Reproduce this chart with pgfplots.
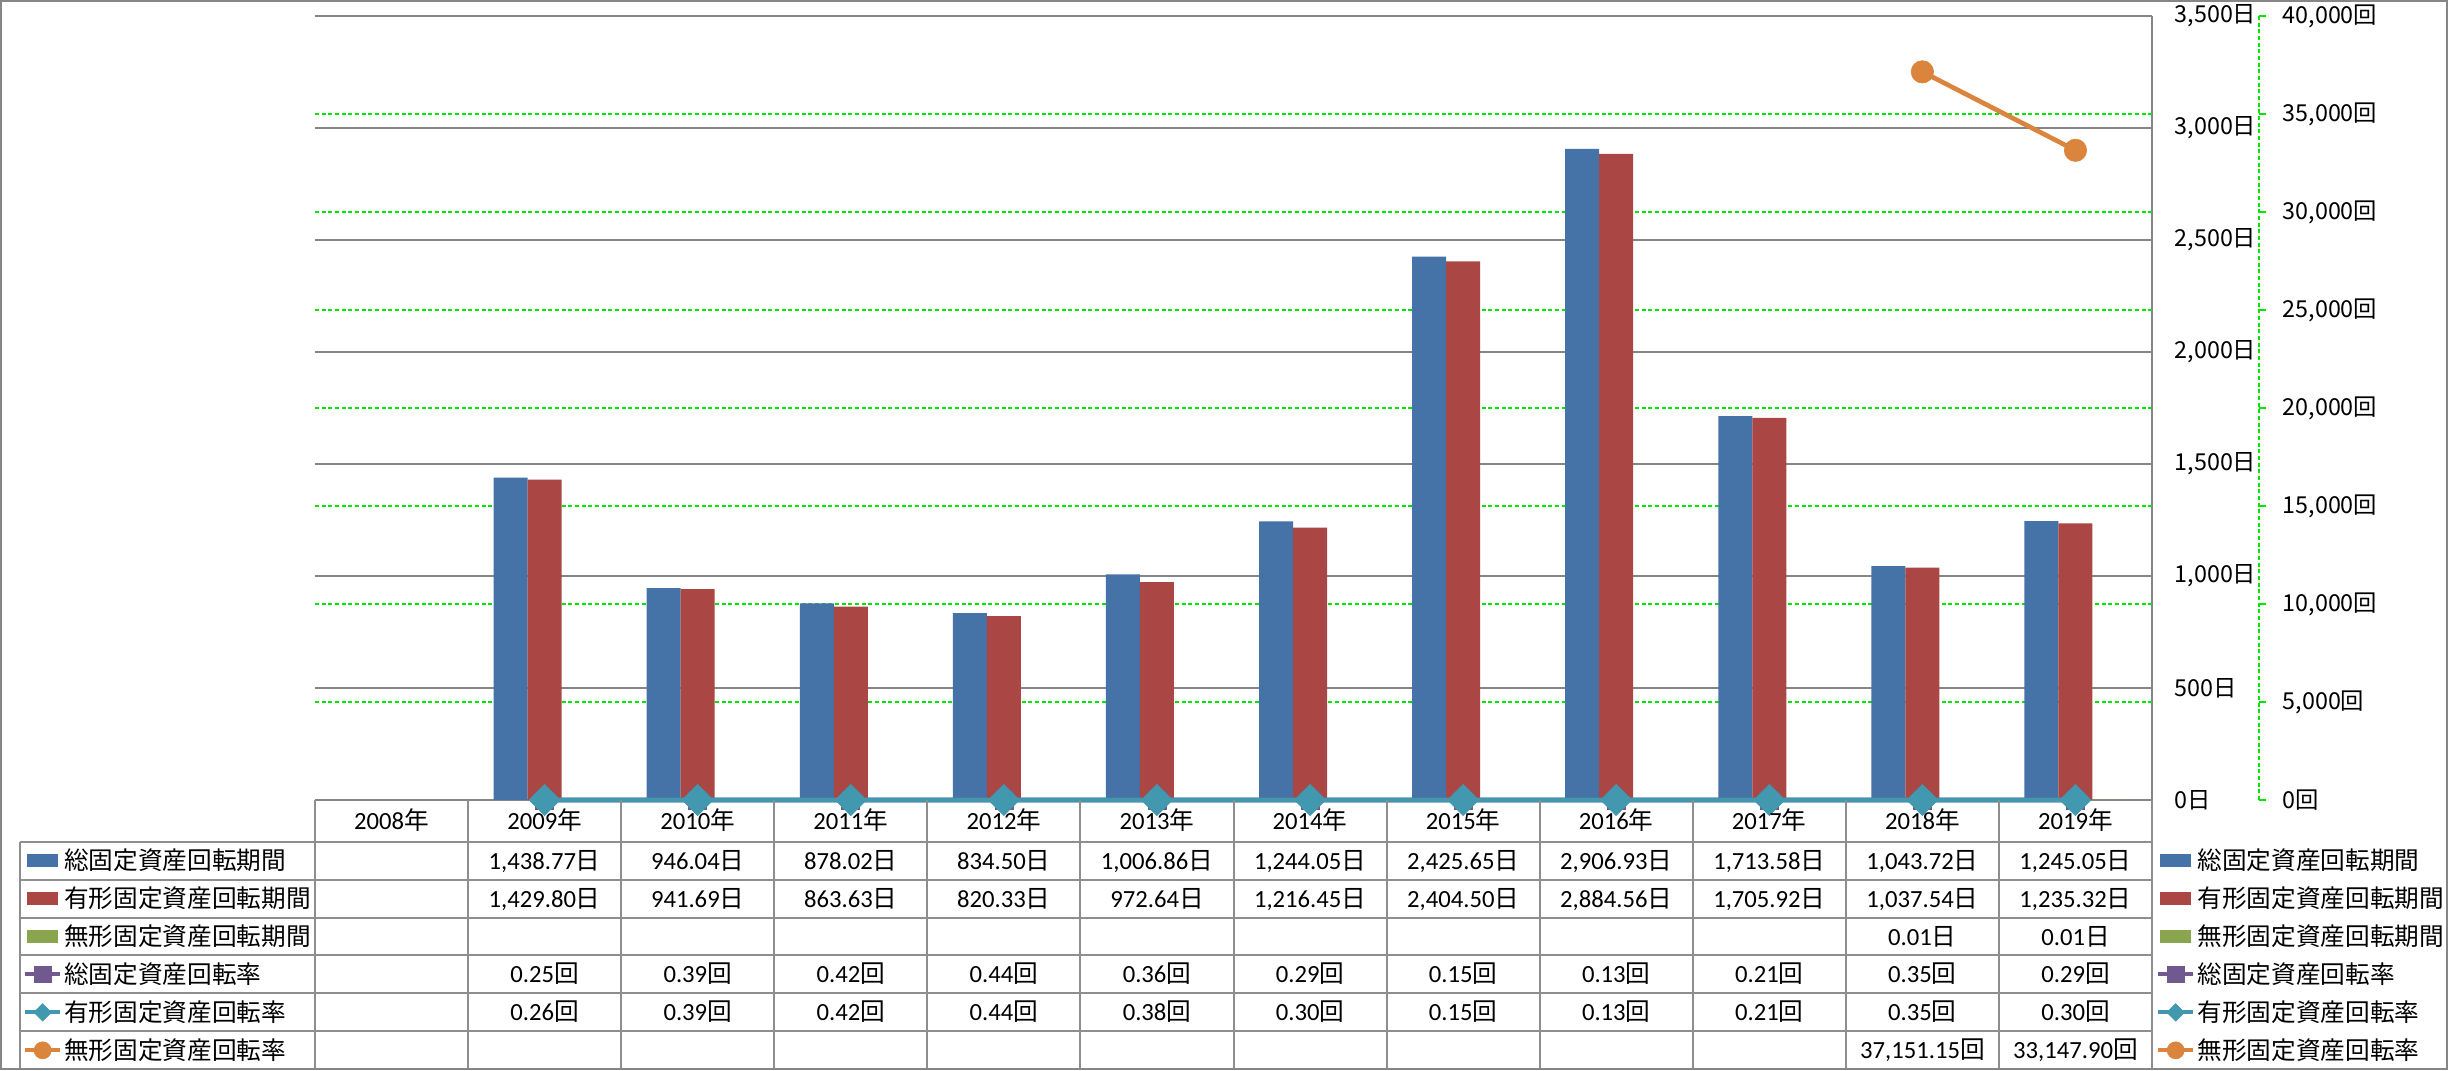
\documentclass[border=0pt]{standalone}
\usepackage{fontspec}
\setmainfont{Carlito}
\newfontfamily\cjk{Noto Sans CJK JP}
\usepackage{pgfplots}
\pgfplotsset{compat=1.18}
\definecolor{cBlue}{HTML}{4572A7}
\definecolor{cRed}{HTML}{AA4643}
\definecolor{cGreen}{HTML}{89A54E}
\definecolor{cPurple}{HTML}{71588F}
\definecolor{cTeal}{HTML}{4198AF}
\definecolor{cOrange}{HTML}{DB843D}
\definecolor{cGrid}{HTML}{868686}
\definecolor{cTab}{HTML}{8E8E8E}
\definecolor{cLime}{HTML}{00E600}
\newcommand\ri{{\cjk 日}}
\newcommand\ka{{\cjk 回}}
\newcommand\nen{{\cjk 年}}
\newcommand\tf{\fontsize{7.4}{8.5}\selectfont}
\newcommand\cell[3]{\node[anchor=base,inner sep=0pt,font=\tf] at ({153.083*(#1+0.5)},{-69.2-37.93*#2}) {#3};}
\newcommand\hd[1]{\node[anchor=base,inner sep=0pt,font=\tf] at ({153.083*(#1-2007.5)},-29.35) {#1\nen};}
\pgfplotsset{
  barleg/.style={legend image code/.code={\fill[##1] (0.5pt,-1.85pt) rectangle (10pt,1.85pt);}},
  lineleg/.style={legend image code/.code={\draw[mark repeat=2,mark phase=2,##1,line width=1.2pt,mark size=#1] plot coordinates {(0pt,0pt) (5.3pt,0pt) (10.6pt,0pt)};}},
  tblleg/.style={legend cell align=left,
    legend style={anchor=north west, draw=none, fill=none, inner sep=0pt, outer sep=0pt,
      row sep=0pt, column sep=0.6pt, font=\fontsize{7.4}{8.5}\cjk,
      nodes={inner sep=0pt, text height=8.49pt, text depth=2.89pt}}},
  sPurple/.style={lineleg=2.5pt, color=cPurple, line width=1.4pt, mark=square*, mark size=2.7pt, mark options={line width=0.2pt}},
  sTeal/.style={lineleg=1.85pt, color=cTeal, line width=1.4pt, mark=square*, mark size=3.3pt, mark options={rotate=45, line width=0.2pt}},
  sOrange/.style={lineleg=2.55pt, color=cOrange, line width=1.4pt, mark=*, mark size=3.35pt, mark options={line width=0.2pt}},
}
\begin{document}
\begin{tikzpicture}
% ---------- primary axis: periods (days), bars ----------
\begin{axis}[
  at={(0pt,0pt)}, anchor=south west, scale only axis,
  width=551.1pt, height=235.2pt,
  xmin=-0.5, xmax=11.5, ymin=0, ymax=3500,
  axis x line*=bottom, axis y line*=right,
  x axis line style={draw=cGrid, line width=0.6pt},
  y axis line style={draw=cGrid, line width=0.6pt},
  xtick=\empty,
  ytick={0,500,...,3500},
  y tick style={draw=none},
  ymajorgrids, major grid style={draw=cGrid, line width=0.6pt},
  extra y ticks={437.5,875,1312.5,1750,2187.5,2625,3062.5},
  extra y tick labels={},
  extra y tick style={grid=major, major grid style={draw=cLime, dash pattern=on 1.2pt off 0.8pt, line width=0.6pt}, tick style={draw=none}},
  scaled y ticks=false,
  yticklabel style={font=\fontsize{7}{8}\cjk, anchor=west, inner sep=0pt, xshift=6.6pt},
  yticklabel={\pgfmathprintnumber[fixed,precision=0,1000 sep={,},assume math mode=true]{\tick}日},
  tblleg,
  legend style={at={(axis description cs:-0.15896,-0.05319)}},
  clip=false,
]
\addplot[ybar, bar width=10.2pt, bar shift=-10.2pt, fill=cBlue, draw=none, barleg] coordinates {
 (1,1438.77) (2,946.04) (3,878.02) (4,834.50) (5,1006.86) (6,1244.05)
 (7,2425.65) (8,2906.93) (9,1713.58) (10,1043.72) (11,1245.05)};
\addplot[ybar, bar width=10.2pt, bar shift=0pt, fill=cRed, draw=none, barleg] coordinates {
 (1,1429.80) (2,941.69) (3,863.63) (4,820.33) (5,972.64) (6,1216.45)
 (7,2404.50) (8,2884.56) (9,1705.92) (10,1037.54) (11,1235.32)};
\addplot[ybar, bar width=10.2pt, bar shift=10.2pt, fill=cGreen, draw=none, barleg] coordinates {
 (10,0.01) (11,0.01)};
\addlegendimage{sPurple}
\addlegendimage{sTeal}
\addlegendimage{sOrange}
\legend{総固定資産回転期間,有形固定資産回転期間,無形固定資産回転期間,総固定資産回転率,有形固定資産回転率,無形固定資産回転率}
\end{axis}
% ---------- secondary axis: turnover (times), lines ----------
\begin{axis}[
  at={(0pt,0pt)}, anchor=south west, scale only axis,
  width=583.2pt, height=235.2pt,
  xmin=-0.5, xmax=12.199, ymin=0, ymax=40000,
  axis x line=none, axis y line*=right,
  y axis line style={draw=cLime, dash pattern=on 1.2pt off 0.8pt, line width=0.6pt},
  ytick={0,5000,...,40000},
  tick align=outside, major tick length=2.1pt,
  y tick style={draw=cLime, line width=0.6pt, solid},
  scaled y ticks=false,
  yticklabel style={font=\fontsize{7}{8}\cjk, anchor=west, inner sep=0pt, xshift=4.8pt},
  yticklabel={\pgfmathprintnumber[fixed,precision=0,1000 sep={,},assume math mode=true]{\tick}回},
  tblleg,
  legend style={at={(axis description cs:0.94702,-0.05319)}},
  clip=false,
]
\addlegendimage{barleg, fill=cBlue, draw=none}
\addlegendimage{barleg, fill=cRed, draw=none}
\addlegendimage{barleg, fill=cGreen, draw=none}
\addplot[sPurple] coordinates {
 (1,0.25) (2,0.39) (3,0.42) (4,0.44) (5,0.36) (6,0.29) (7,0.15) (8,0.13) (9,0.21) (10,0.35) (11,0.29)};
\addplot[sTeal] coordinates {
 (1,0.26) (2,0.39) (3,0.42) (4,0.44) (5,0.38) (6,0.30) (7,0.15) (8,0.13) (9,0.21) (10,0.35) (11,0.30)};
\addplot[sOrange] coordinates {(10,37151.15) (11,33147.90)};
\legend{総固定資産回転期間,有形固定資産回転期間,無形固定資産回転期間,総固定資産回転率,有形固定資産回転率,無形固定資産回転率}
\end{axis}
% ---------- data table ----------
\begin{scope}[x=0.3pt,y=0.3pt]
\begin{scope}[draw=cTab, line width=0.6pt]
 \foreach \yy in {-41.7,-79.63,-117.56,-155.49,-193.42,-231.35}
   \draw (-294.5,\yy) -- (1837,\yy);
 \draw (-294.5,-41.7) -- (-294.5,-269.3);
 \foreach \k in {0,...,12} \draw ({153.083*\k},0) -- ({153.083*\k},-269.3);
\end{scope}
\draw[cGrid, line width=0.7pt] (-314,799) rectangle (2132,-269.3);
\hd{2008}\hd{2009}\hd{2010}\hd{2011}\hd{2012}\hd{2013}
\hd{2014}\hd{2015}\hd{2016}\hd{2017}\hd{2018}\hd{2019}
% row 0
\cell{1}{0}{1,438.77\ri}\cell{2}{0}{946.04\ri}\cell{3}{0}{878.02\ri}\cell{4}{0}{834.50\ri}
\cell{5}{0}{1,006.86\ri}\cell{6}{0}{1,244.05\ri}\cell{7}{0}{2,425.65\ri}\cell{8}{0}{2,906.93\ri}
\cell{9}{0}{1,713.58\ri}\cell{10}{0}{1,043.72\ri}\cell{11}{0}{1,245.05\ri}
% row 1
\cell{1}{1}{1,429.80\ri}\cell{2}{1}{941.69\ri}\cell{3}{1}{863.63\ri}\cell{4}{1}{820.33\ri}
\cell{5}{1}{972.64\ri}\cell{6}{1}{1,216.45\ri}\cell{7}{1}{2,404.50\ri}\cell{8}{1}{2,884.56\ri}
\cell{9}{1}{1,705.92\ri}\cell{10}{1}{1,037.54\ri}\cell{11}{1}{1,235.32\ri}
% row 2
\cell{10}{2}{0.01\ri}\cell{11}{2}{0.01\ri}
% row 3
\cell{1}{3}{0.25\ka}\cell{2}{3}{0.39\ka}\cell{3}{3}{0.42\ka}\cell{4}{3}{0.44\ka}
\cell{5}{3}{0.36\ka}\cell{6}{3}{0.29\ka}\cell{7}{3}{0.15\ka}\cell{8}{3}{0.13\ka}
\cell{9}{3}{0.21\ka}\cell{10}{3}{0.35\ka}\cell{11}{3}{0.29\ka}
% row 4
\cell{1}{4}{0.26\ka}\cell{2}{4}{0.39\ka}\cell{3}{4}{0.42\ka}\cell{4}{4}{0.44\ka}
\cell{5}{4}{0.38\ka}\cell{6}{4}{0.30\ka}\cell{7}{4}{0.15\ka}\cell{8}{4}{0.13\ka}
\cell{9}{4}{0.21\ka}\cell{10}{4}{0.35\ka}\cell{11}{4}{0.30\ka}
% row 5
\cell{10}{5}{37,151.15\ka}\cell{11}{5}{33,147.90\ka}
\pgfresetboundingbox
\path[use as bounding box] (-315,-271) rectangle (2136,800);
\end{scope}
\end{tikzpicture}
\end{document}
